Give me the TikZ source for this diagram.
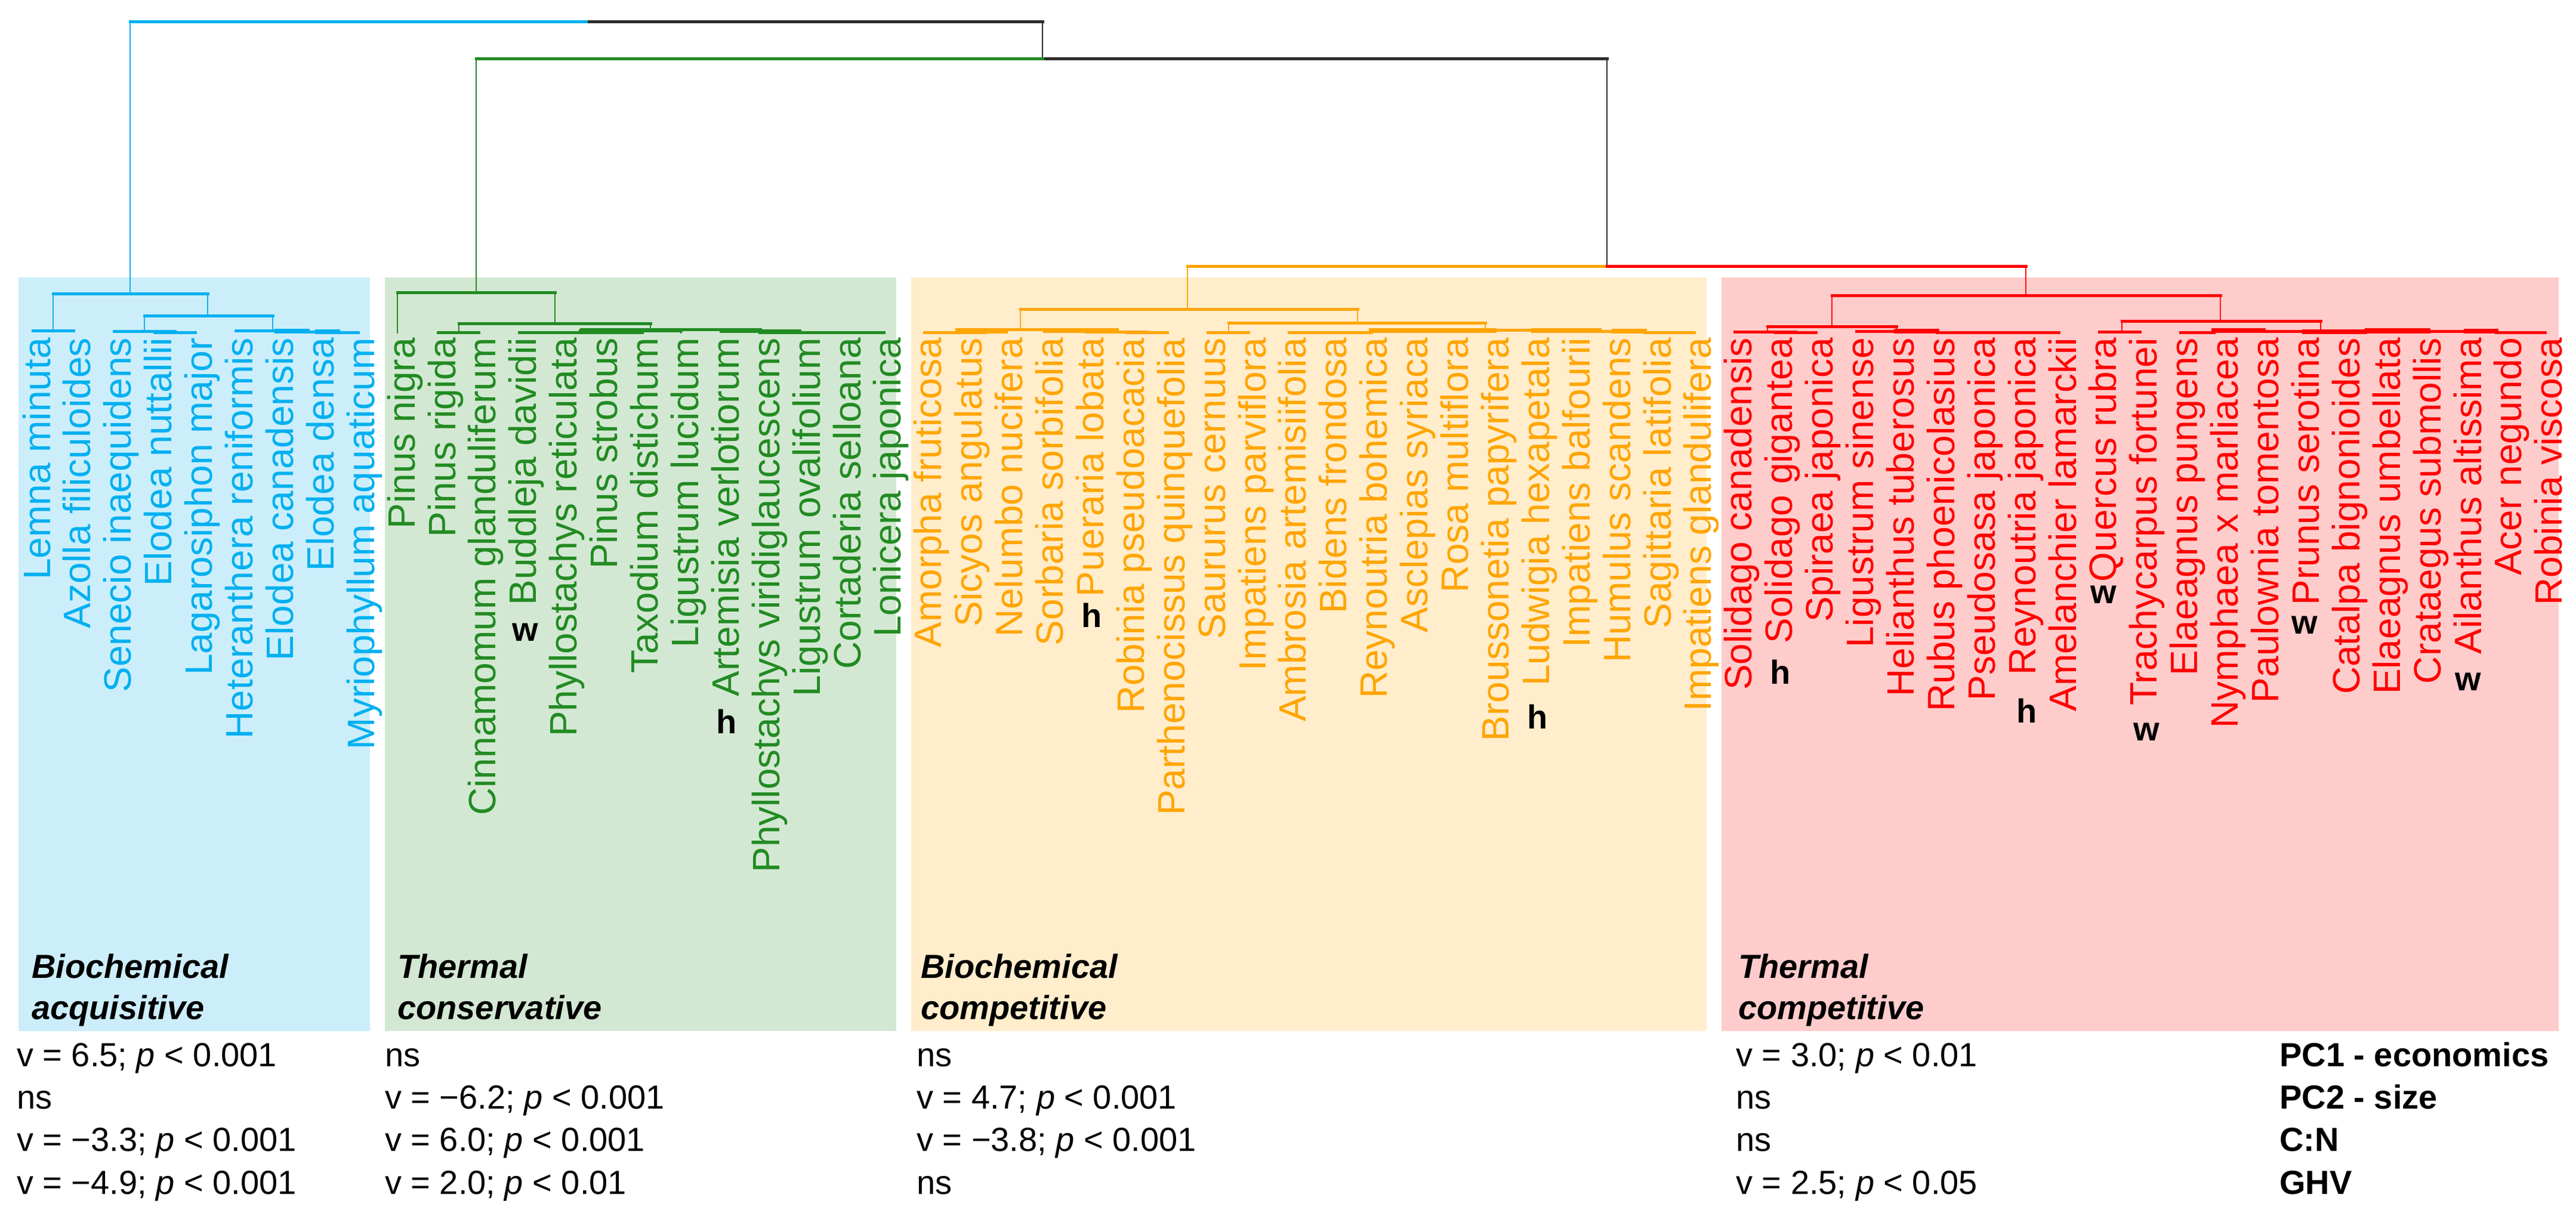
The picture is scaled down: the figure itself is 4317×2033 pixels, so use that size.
\documentclass[tikz,border=0pt]{standalone}
\usepackage{fontspec}
\setmainfont{Liberation Sans}
\definecolor{cB}{RGB}{0,176,240}
\definecolor{cG}{RGB}{34,139,34}
\definecolor{cO}{RGB}{255,165,0}
\definecolor{cR}{RGB}{255,0,0}
\definecolor{fB}{RGB}{204,238,251}
\definecolor{fG}{RGB}{211,232,211}
\definecolor{fO}{RGB}{255,237,204}
\definecolor{fR}{RGB}{255,204,204}
\definecolor{cK}{RGB}{45,45,45}
\newcommand\labfont{\fontsize{64}{70}\selectfont}
\newcommand\statfont{\fontsize{56}{64}\selectfont}
\newcommand\grpfont{\fontsize{56}{64}\selectfont\bfseries\itshape}
\newcommand\mkfont{\fontsize{56}{64}\selectfont\bfseries}
\tikzset{
  hz/.style={line width=5pt, line cap=rect},
  hzt/.style={line width=8pt, line cap=rect},
  vt/.style={line width=2.5pt},
  lab/.style={rotate=90, anchor=base east, inner sep=0pt, font=\labfont},
  stat/.style={anchor=base west, inner sep=0pt, font=\statfont},
  grp/.style={anchor=base west, inner sep=0pt, font=\grpfont},
  mk/.style={inner sep=0pt, font=\mkfont},
  grpbox/.style={draw=none}
}
\begin{document}
\begin{tikzpicture}[x=1pt,y=-1pt]
\fill[white] (0,0) rectangle (4317,2033);
\useasboundingbox (0,0) rectangle (4317,2033);

% group boxes
\fill[fB] (31,465) rectangle (620,1728);
\fill[fG] (645,465) rectangle (1502,1728);
\fill[fO] (1527,465) rectangle (2860,1728);
\fill[fR] (2885,465) rectangle (4288,1728);

% main tree nodes
\coordinate (root) at (982,37);
\coordinate (nRest) at (1747,37);
\coordinate (nOR) at (2693,99);
\coordinate (nB) at (218,37);
\coordinate (nG) at (798,99);
\coordinate (nO) at (1990,446);
\coordinate (nR) at (3395,446);

% black backbone
\draw[hz,cK] (root) -- (nRest);
\draw[vt,cK] (nRest) -- (nRest |- nG);
\draw[hz,cK] (nRest |- nG) -- (nOR);
\draw[vt,cK] (nOR) -- (nOR |- nO);

% ---------------- blue cluster
\begin{scope}[cB]
\draw[hz] (nB) -- (root);
\draw[vt] (nB) -- (218,492);
\draw[hz] (89,492) -- (348,492);
\draw[vt] (89,492) -- (89,554);
\draw[hz] (55,554) -- (123,554);
\draw[vt] (348,492) -- (348,529);
\draw[hz] (242,529) -- (457,529);
\draw[vt] (242,529) -- (242,555);
\draw[hz] (191,555) -- (293,555);
\draw[hz] (259,557) -- (327,557);
\draw[vt] (457,529) -- (457,554);
\draw[hz] (395,554) -- (515,554);
\draw[hzt] (464,555) -- (515,555);
\draw[hz] (464,556) -- (566,556);
\draw[hzt] (532,556) -- (566,556);
\draw[hz] (532,557) -- (600,557);
\end{scope}

% ---------------- green cluster
\begin{scope}[cG]
\draw[hz] (nG) -- (nRest |- nG);
\draw[vt] (nG) -- (798,490);
\draw[hz] (666,490) -- (930,490);
\draw[vt] (666,490) -- (666,559);
\draw[vt] (930,490) -- (930,542);
\draw[hz] (769,542) -- (1090,542);
\draw[vt] (769,542) -- (769,557);
\draw[hz] (734,557) -- (802,557);
\draw[vt] (1090,542) -- (1090,552);
\draw[hz] (974,552) -- (1240,552);
\draw[hz] (870,557) -- (974,557);
\draw[hzt] (974,556) -- (1075,556);
\draw[hz] (1075,554) -- (1141,554);
\draw[vt] (1141,552) -- (1141,559);
\draw[hzt] (1210,554) -- (1273,554);
\draw[hzt] (1279,556) -- (1339,556);
\draw[hz] (1273,557) -- (1481,557);
\end{scope}

% ---------------- orange cluster
\begin{scope}[cO]
\draw[hz] (nO) -- (nOR |- nO);
\draw[vt] (nO) -- (1990,518);
\draw[hz] (1710,518) -- (2275,518);
\draw[vt] (1710,518) -- (1710,552);
\draw[hz] (1603,552) -- (1815,552);
\draw[vt] (1603,552) -- (1603,557);
\draw[hz] (1549,557) -- (1651,557);
\draw[hzt] (1617,555) -- (1685,555);
\draw[hzt] (1752,554) -- (1871,554);
\draw[hz] (1820,556) -- (1922,556);
\draw[hz] (1888,557) -- (1956,557);
\draw[vt] (2275,518) -- (2275,541);
\draw[hz] (2059,541) -- (2489,541);
\draw[vt] (2059,541) -- (2059,557);
\draw[hz] (2024,557) -- (2092,557);
\draw[vt] (2489,541) -- (2489,552);
\draw[hz] (2160,557) -- (2298,557);
\draw[hzt] (2298,554) -- (2504,554);
\draw[hz] (2504,553) -- (2570,553);
\draw[hzt] (2570,554) -- (2680,554);
\draw[hz] (2680,555) -- (2705,555);
\draw[hzt] (2705,555) -- (2756,555);
\draw[hz] (2756,557) -- (2839,557);
\end{scope}

% ---------------- red cluster
\begin{scope}[cR]
\draw[hz] (nOR |- nR) -- (nR);
\draw[vt] (nR) -- (3395,495);
\draw[hz] (3070,495) -- (3721,495);
\draw[vt] (3070,495) -- (3070,547);
\draw[hz] (2962,547) -- (3178,547);
\draw[vt] (2962,547) -- (2962,556);
\draw[hz] (2907,556) -- (3009,556);
\draw[hz] (2975,557) -- (3043,557);
\draw[vt] (3178,547) -- (3178,555);
\draw[hz] (3111,555) -- (3178,555);
\draw[hzt] (3178,555) -- (3246,555);
\draw[hz] (3246,557) -- (3450,557);
\draw[vt] (3721,495) -- (3721,538);
\draw[hz] (3556,538) -- (3889,538);
\draw[vt] (3556,538) -- (3556,556);
\draw[hz] (3518,556) -- (3586,556);
\draw[vt] (3889,538) -- (3889,552);
\draw[hz] (3654,557) -- (3710,557);
\draw[hzt] (3710,554) -- (3793,554);
\draw[hz] (3793,555) -- (3862,555);
\draw[hzt] (3862,556) -- (3963,556);
\draw[line width=9pt] (3963,554) -- (4073,554);
\draw[hz] (4073,555) -- (4133,555);
\draw[hzt] (4133,555) -- (4183,555);
\draw[hz] (4183,557) -- (4265,557);
\end{scope}

% leaf labels
\foreach \i/\t/\c in {
 0/Lemna minuta/cB, 1/Azolla filiculoides/cB, 2/Senecio inaequidens/cB,
 3/Elodea nuttallii/cB, 4/Lagarosiphon major/cB, 5/Heteranthera reniformis/cB,
 6/Elodea canadensis/cB, 7/Elodea densa/cB, 8/Myriophyllum aquaticum/cB,
 9/Pinus nigra/cG, 10/Pinus rigida/cG, 11/Cinnamomum glanduliferum/cG,
 12/Buddleja davidii/cG, 13/Phyllostachys reticulata/cG, 14/Pinus strobus/cG,
 15/Taxodium distichum/cG, 16/Ligustrum lucidum/cG, 17/Artemisia verlotiorum/cG,
 18/Phyllostachys viridiglaucescens/cG, 19/Ligustrum ovalifolium/cG,
 20/Cortaderia selloana/cG, 21/Lonicera japonica/cG,
 22/Amorpha fruticosa/cO, 23/Sicyos angulatus/cO, 24/Nelumbo nucifera/cO,
 25/Sorbaria sorbifolia/cO, 26/Pueraria lobata/cO, 27/Robinia pseudoacacia/cO,
 28/Parthenocissus quinquefolia/cO, 29/Saururus cernuus/cO,
 30/Impatiens parviflora/cO, 31/Ambrosia artemisiifolia/cO, 32/Bidens frondosa/cO,
 33/Reynoutria bohemica/cO, 34/Asclepias syriaca/cO, 35/Rosa multiflora/cO,
 36/Broussonetia papyrifera/cO, 37/Ludwigia hexapetala/cO,
 38/Impatiens balfourii/cO, 39/Humulus scandens/cO, 40/Sagittaria latifolia/cO,
 41/Impatiens glandulifera/cO,
 42/Solidago canadensis/cR, 43/Solidago gigantea/cR, 44/Spiraea japonica/cR,
 45/Ligustrum sinense/cR, 46/Helianthus tuberosus/cR, 47/Rubus phoenicolasius/cR,
 48/Pseudosasa japonica/cR, 49/Reynoutria japonica/cR, 50/Amelanchier lamarckii/cR,
 51/Quercus rubra/cR, 52/Trachycarpus fortunei/cR, 53/Elaeagnus pungens/cR,
 54/Nymphaea x marliacea/cR, 55/Paulownia tomentosa/cR, 56/Prunus serotina/cR,
 57/Catalpa bignonioides/cR, 58/Elaeagnus umbellata/cR, 59/Crataegus submollis/cR,
 60/Ailanthus altissima/cR, 61/Acer negundo/cR, 62/Robinia viscosa/cR} {
  \pgfmathsetmacro\lx{84+67.9*\i}
  \node[lab, text=\c] (lab\i) at (\lx,566) {\t};
}

% trait markers
\node[mk] (m12) at (880,1060) {w};
\node[mk] (m17) at (1218,1209) {h};
\node[mk] (m26) at (1830,1031) {h};
\node[mk] (m37) at (2577,1201) {h};
\node[mk] (m43) at (2984,1126) {h};
\node[mk] (m49) at (3397,1191) {h};
\node[mk] (m51) at (3525,997) {w};
\node[mk] (m52) at (3597,1227) {w};
\node[mk] (m56) at (3862,1048) {w};
\node[mk] (m60) at (4136,1143) {w};

% group names
\node[grp] (gB1) at (53,1639) {Biochemical};
\node[grp] (gB2) at (53,1708) {acquisitive};
\node[grp] (gG1) at (666,1639) {Thermal};
\node[grp] (gG2) at (666,1708) {conservative};
\node[grp] (gO1) at (1543,1639) {Biochemical};
\node[grp] (gO2) at (1543,1708) {competitive};
\node[grp] (gR1) at (2913,1639) {Thermal};
\node[grp] (gR2) at (2913,1708) {competitive};

% statistics
\node[stat] (s11) at (28,1787) {v = 6.5; \textit{p} < 0.001};
\node[stat] (s12) at (28,1858) {ns};
\node[stat] (s13) at (28,1929) {v = −3.3; \textit{p} < 0.001};
\node[stat] (s14) at (28,2001) {v = −4.9; \textit{p} < 0.001};
\node[stat] (s21) at (645,1787) {ns};
\node[stat] (s22) at (645,1858) {v = −6.2; \textit{p} < 0.001};
\node[stat] (s23) at (645,1929) {v = 6.0; \textit{p} < 0.001};
\node[stat] (s24) at (645,2001) {v = 2.0; \textit{p} < 0.01};
\node[stat] (s31) at (1536,1787) {ns};
\node[stat] (s32) at (1536,1858) {v = 4.7; \textit{p} < 0.001};
\node[stat] (s33) at (1536,1929) {v = −3.8; \textit{p} < 0.001};
\node[stat] (s34) at (1536,2001) {ns};
\node[stat] (s41) at (2909,1787) {v = 3.0; \textit{p} < 0.01};
\node[stat] (s42) at (2909,1858) {ns};
\node[stat] (s43) at (2909,1929) {ns};
\node[stat] (s44) at (2909,2001) {v = 2.5; \textit{p} < 0.05};
\node[stat, font=\statfont\bfseries] (t1) at (3820,1787) {PC1 - economics};
\node[stat, font=\statfont\bfseries] (t2) at (3820,1858) {PC2 - size};
\node[stat, font=\statfont\bfseries] (t3) at (3820,1929) {C:N};
\node[stat, font=\statfont\bfseries] (t4) at (3820,2001) {GHV};
\end{tikzpicture}
\end{document}
